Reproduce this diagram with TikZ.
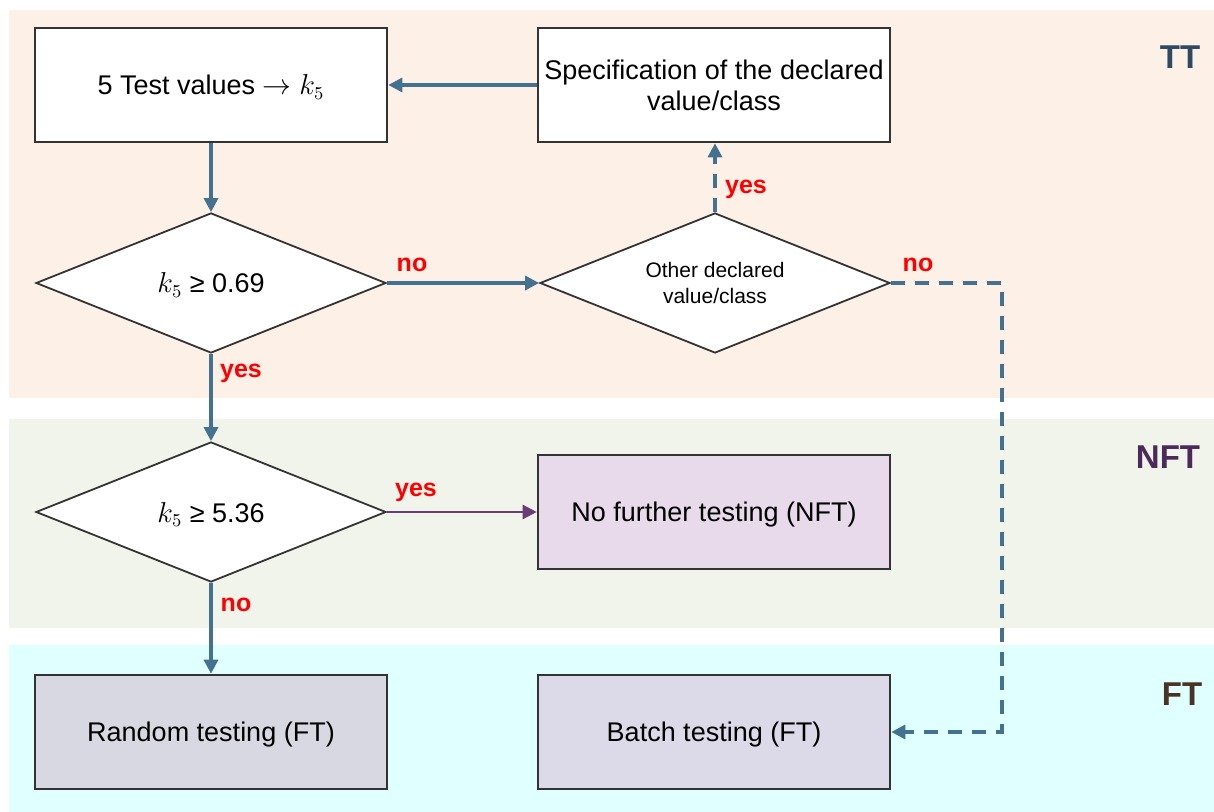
\documentclass[tikz,border=0pt]{standalone}
\usepackage{fontspec}
\setmainfont{Liberation Sans}
\usetikzlibrary{shapes.geometric,arrows.meta}

\definecolor{ttband}{HTML}{FDF0E7}
\definecolor{nftband}{HTML}{F1F4EA}
\definecolor{ftband}{HTML}{E0FFFF}
\definecolor{flow}{HTML}{44718F}
\definecolor{nftflow}{HTML}{6A3D7A}
\definecolor{nftfill}{HTML}{E8D9EB}
\definecolor{randfill}{HTML}{D8D8E2}
\definecolor{batchfill}{HTML}{DCDAE8}
\definecolor{edge}{HTML}{333333}
\definecolor{ttlab}{HTML}{2E4A62}
\definecolor{nftlab}{HTML}{4B2A5A}
\definecolor{ftlab}{HTML}{4A3325}

\tikzset{
  band/.style={fill=#1, draw=none},
  procbox/.style={draw=edge, line width=1.3pt, fill=white, minimum width=176pt,
    minimum height=57pt, inner sep=2pt, align=center,
    font=\fontsize{13.5}{15.5}\selectfont},
  oneline/.style={text depth=0pt},
  decision/.style={diamond, draw=edge, line width=0.9pt, fill=white, aspect=2.5,
    minimum width=175pt, minimum height=70pt, inner sep=0pt, align=center,
    font=\fontsize{13.5}{15.5}\selectfont},
  flowarrow/.style={draw=flow, line width=1.6pt, -{Triangle[length=7pt,width=7pt]}},
  dasharrow/.style={flowarrow, dash pattern=on 7pt off 5pt},
  answer/.style={text=red, font=\bfseries\fontsize{12.5}{14}\selectfont, inner sep=0pt},
  lanelabel/.style={font=\bfseries\fontsize{16.5}{18}\selectfont, inner sep=0pt},
}

\begin{document}
\begin{tikzpicture}[x=0.5pt, y=-0.5pt]
  \useasboundingbox (0,0) rectangle (1214,812);

  % swim-lane bands
  \fill[band=ttband]  (9,10)  rectangle (1214,398);
  \fill[band=nftband] (9,419) rectangle (1214,628);
  \fill[band=ftband]  (9,645) rectangle (1214,812);

  \node[lanelabel, text=ttlab]  (ttl)  at (1180,57)  {TT};
  \node[lanelabel, text=nftlab] (nftl) at (1168,457) {NFT};
  \node[lanelabel, text=ftlab]  (ftl)  at (1182,694) {FT};

  % process boxes
  \node[procbox, oneline] (tests) at (211,85) {5 Test values $\rightarrow k_5$};
  \node[procbox] (spec)  at (714,85) {Specification of the declared\\value/class};
  \node[procbox, oneline, fill=nftfill] (nft) at (714,512) {No further testing (NFT)};
  \node[procbox, oneline, fill=randfill] (rand) at (211,732) {Random testing (FT)};
  \node[procbox, oneline, fill=batchfill] (batch) at (714,732) {Batch testing (FT)};

  % decisions
  \node[decision, oneline] (d1) at (211,283) {$k_5$ ≥ 0.69};
  \node[decision, font=\fontsize{10.5}{13}\selectfont] (d2) at (715,283) {Other declared\\value/class};
  \node[decision, oneline] (d3) at (211,512) {$k_5$ ≥ 5.36};

  \coordinate (c1) at (1002,283);
  \coordinate (c2) at (1002,732);

  % connectors
  \draw[flowarrow] (spec.west) -- (tests.east);
  \draw[flowarrow] (tests.south) -- (d1.north);
  \draw[flowarrow] (d1.east) -- (d2.west);
  \draw[dasharrow] (d2.north) -- (d2.north |- spec.south);
  \draw[dasharrow] (d2.east) -- (c1) -- (c2) -- (batch.east);
  \draw[flowarrow] (d1.south) -- (d3.north);
  \draw[flowarrow, draw=nftflow, line width=1.2pt] (d3.east) -- (nft.west);
  \draw[flowarrow] (d3.south) -- (rand.north);

  % branch answers
  \node[answer] (a1) at (412,265) {no};
  \node[answer] (a2) at (746,189) {yes};
  \node[answer] (a3) at (918,265) {no};
  \node[answer] (a4) at (241,373) {yes};
  \node[answer] (a5) at (416,492) {yes};
  \node[answer] (a6) at (236,605) {no};
\end{tikzpicture}
\end{document}
